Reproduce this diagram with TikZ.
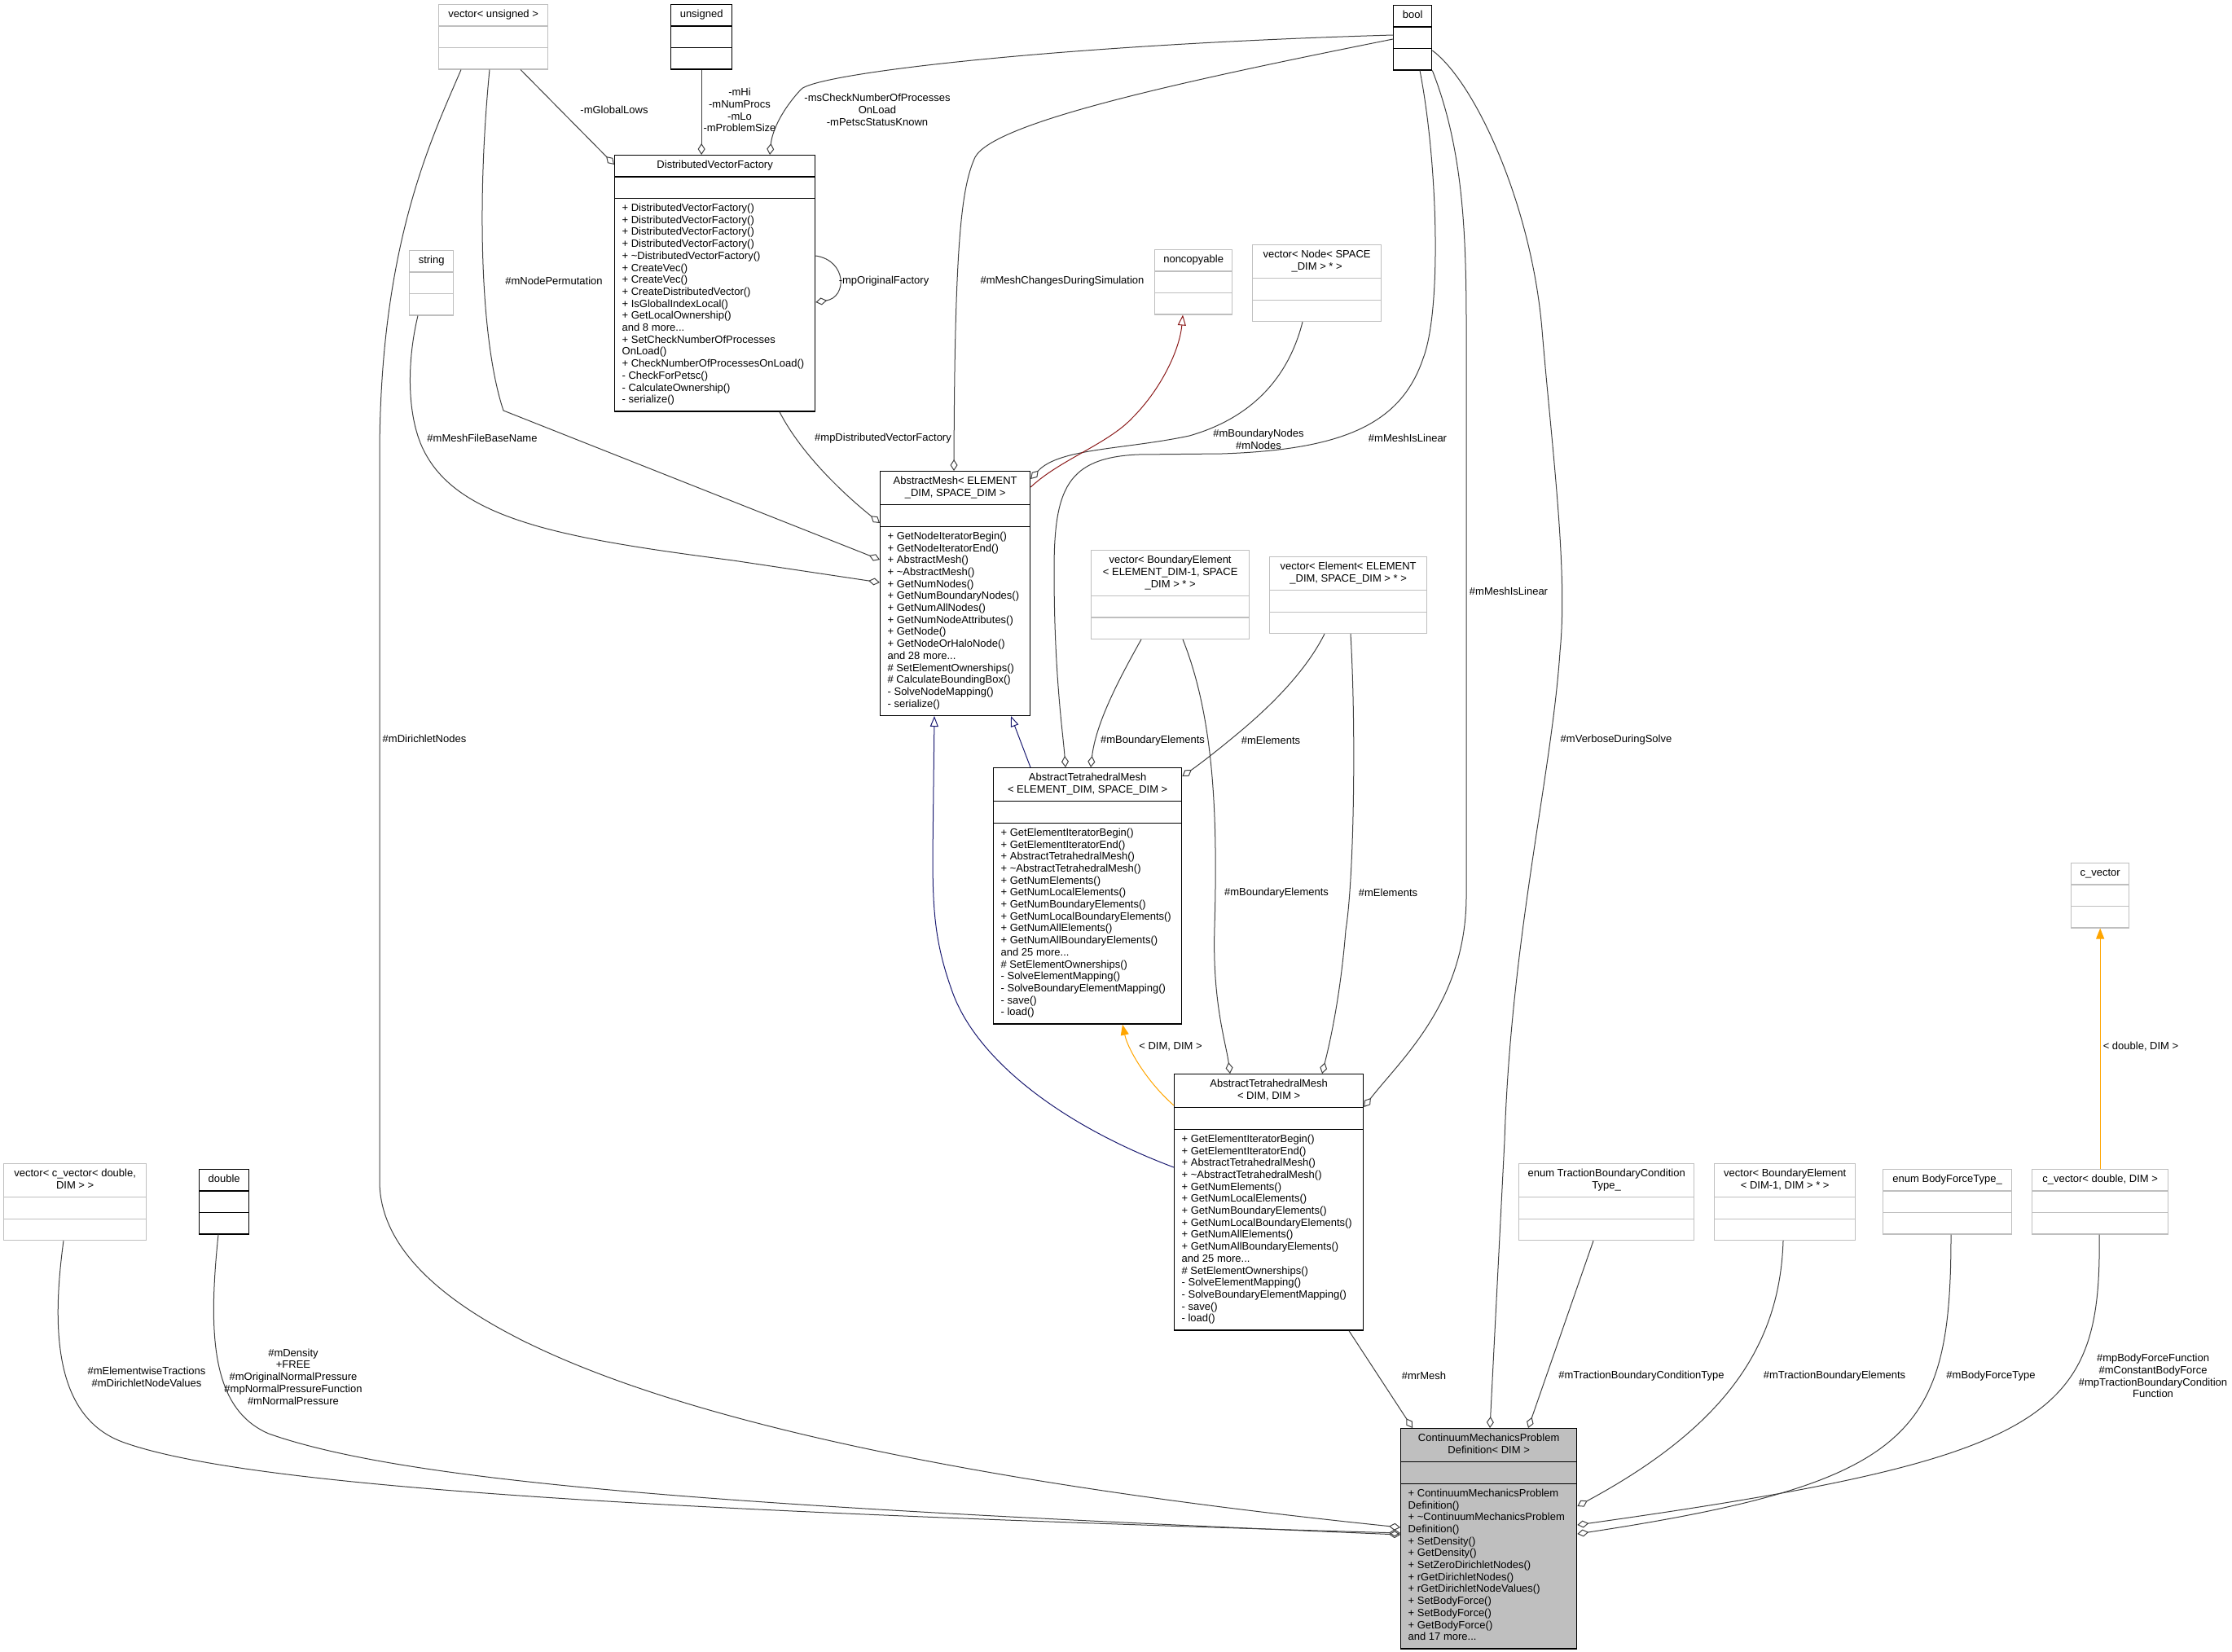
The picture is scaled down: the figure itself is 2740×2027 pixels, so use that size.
\documentclass[tikz,border=0pt]{standalone}
\usepackage{fontspec}
\setmainfont{Liberation Sans}
\usetikzlibrary{arrows.meta,calc,shapes.multipart}
\definecolor{edgegray}{HTML}{404040}
\definecolor{boxgray}{HTML}{BFBFBF}
\definecolor{inhblue}{HTML}{191970}
\definecolor{inhred}{HTML}{8B1A1A}
\definecolor{tmplorange}{HTML}{FFA500}

\begin{document}
\begin{tikzpicture}[x=1pt, y=-1pt,
        every node/.style={font=\fontsize{13}{14.7}\selectfont},
        cls/.style={
        rectangle split, rectangle split parts=3,
        inner xsep=9pt, inner ysep=5.2pt,
        anchor=north west, line width=1.3pt},
        doc/.style={cls, draw=black},
        ext/.style={cls, draw=boxgray},
        cur/.style={doc, fill=boxgray},
        lbl/.style={align=center, inner sep=0pt},
        agg/.style={draw=edgegray, line width=1pt, -{Diamond[open, length=14pt, width=9pt]}},
        inh/.style={draw=inhblue, line width=1pt, -{Triangle[open, length=13pt, width=10pt]}},
        pinh/.style={draw=inhred, line width=1pt, -{Triangle[open, length=13pt, width=10pt]}},
        tmpl/.style={draw=tmplorange, line width=1pt, -{Triangle[length=13pt, width=10pt]}},
        ]

        \useasboundingbox (0,0) rectangle (2740,2027);

        \node (vecuns) [ext] at (538,5) {\parbox[t]{116pt}{\centering\strut vector< unsigned >\strut}\nodepart{two}\strut\nodepart{three}\strut};
        \node (uns) [doc] at (823,5) {\parbox[t]{57pt}{\centering\strut unsigned\strut}\nodepart{two}\strut\nodepart{three}\strut};
        \node (boolt) [doc] at (1710,6) {\parbox[t]{29pt}{\centering\strut bool\strut}\nodepart{two}\strut\nodepart{three}\strut};
        \node (dvf) [doc] at (754,190) {\parbox[t]{228pt}{\centering\strut DistributedVectorFactory\strut}
            \nodepart{two}\strut
            \nodepart{three}\parbox[t]{228pt}{\raggedright\strut + DistributedVectorFactory()\\+ DistributedVectorFactory()\\+ DistributedVectorFactory()\\+ DistributedVectorFactory()\\+ \textasciitilde DistributedVectorFactory()\\+ CreateVec()\\+ CreateVec()\\+ CreateDistributedVector()\\+ IsGlobalIndexLocal()\\+ GetLocalOwnership()\\and 8 more...\\+ SetCheckNumberOfProcesses\\OnLoad()\\+ CheckNumberOfProcessesOnLoad()\\- CheckForPetsc()\\- CalculateOwnership()\\- serialize()\strut}};
        \node (str) [ext] at (502,307) {\parbox[t]{36pt}{\centering\strut string\strut}\nodepart{two}\strut\nodepart{three}\strut};
        \node (noncp) [ext] at (1417,306) {\parbox[t]{77pt}{\centering\strut noncopyable\strut}\nodepart{two}\strut\nodepart{three}\strut};
        \node (vecnode) [ext] at (1537,300) {\parbox[t]{140pt}{\centering\strut vector< Node< SPACE\\\_DIM > * >\strut}\nodepart{two}\strut\nodepart{three}\strut};
        \node (amesh) [doc] at (1080,578) {\parbox[t]{166pt}{\centering\strut AbstractMesh< ELEMENT\\\_DIM, SPACE\_DIM >\strut}
            \nodepart{two}\strut
            \nodepart{three}\parbox[t]{166pt}{\raggedright\strut + GetNodeIteratorBegin()\\+ GetNodeIteratorEnd()\\+ AbstractMesh()\\+ \textasciitilde AbstractMesh()\\+ GetNumNodes()\\+ GetNumBoundaryNodes()\\+ GetNumAllNodes()\\+ GetNumNodeAttributes()\\+ GetNode()\\+ GetNodeOrHaloNode()\\and 28 more...\\\# SetElementOwnerships()\\\# CalculateBoundingBox()\\- SolveNodeMapping()\\- serialize()\strut}};
        \node (vecbe) [ext] at (1339,675) {\parbox[t]{176pt}{\centering\strut vector< BoundaryElement\\< ELEMENT\_DIM-1, SPACE\\\_DIM > * >\strut}\nodepart{two}\strut\nodepart{three}\strut};
        \node (vecel) [ext] at (1558,683) {\parbox[t]{175pt}{\centering\strut vector< Element< ELEMENT\\\_DIM, SPACE\_DIM > * >\strut}\nodepart{two}\strut\nodepart{three}\strut};
        \node (atmesh) [doc] at (1219,942) {\parbox[t]{213pt}{\centering\strut AbstractTetrahedralMesh\\< ELEMENT\_DIM, SPACE\_DIM >\strut}
            \nodepart{two}\strut
            \nodepart{three}\parbox[t]{213pt}{\raggedright\strut + GetElementIteratorBegin()\\+ GetElementIteratorEnd()\\+ AbstractTetrahedralMesh()\\+ \textasciitilde AbstractTetrahedralMesh()\\+ GetNumElements()\\+ GetNumLocalElements()\\+ GetNumBoundaryElements()\\+ GetNumLocalBoundaryElements()\\+ GetNumAllElements()\\+ GetNumAllBoundaryElements()\\and 25 more...\\\# SetElementOwnerships()\\- SolveElementMapping()\\- SolveBoundaryElementMapping()\\- save()\\- load()\strut}};
        \node (atmdd) [doc] at (1441,1318) {\parbox[t]{214pt}{\centering\strut AbstractTetrahedralMesh\\< DIM, DIM >\strut}
            \nodepart{two}\strut
            \nodepart{three}\parbox[t]{214pt}{\raggedright\strut + GetElementIteratorBegin()\\+ GetElementIteratorEnd()\\+ AbstractTetrahedralMesh()\\+ \textasciitilde AbstractTetrahedralMesh()\\+ GetNumElements()\\+ GetNumLocalElements()\\+ GetNumBoundaryElements()\\+ GetNumLocalBoundaryElements()\\+ GetNumAllElements()\\+ GetNumAllBoundaryElements()\\and 25 more...\\\# SetElementOwnerships()\\- SolveElementMapping()\\- SolveBoundaryElementMapping()\\- save()\\- load()\strut}};
        \node (veccv) [ext] at (4,1428) {\parbox[t]{157pt}{\centering\strut vector< c\_vector< double,\\DIM > >\strut}\nodepart{two}\strut\nodepart{three}\strut};
        \node (dbl) [doc] at (244,1435) {\parbox[t]{43pt}{\centering\strut double\strut}\nodepart{two}\strut\nodepart{three}\strut};
        \node (etbc) [ext] at (1864,1428) {\parbox[t]{197pt}{\centering\strut enum TractionBoundaryCondition\\Type\_\strut}\nodepart{two}\strut\nodepart{three}\strut};
        \node (vecbed) [ext] at (2104,1428) {\parbox[t]{155pt}{\centering\strut vector< BoundaryElement\\< DIM-1, DIM > * >\strut}\nodepart{two}\strut\nodepart{three}\strut};
        \node (ebf) [ext] at (2311,1435) {\parbox[t]{140pt}{\centering\strut enum BodyForceType\_\strut}\nodepart{two}\strut\nodepart{three}\strut};
        \node (cvdd) [ext] at (2494,1435) {\parbox[t]{149pt}{\centering\strut c\_vector< double, DIM >\strut}\nodepart{two}\strut\nodepart{three}\strut};
        \node (cvec) [ext] at (2542,1059) {\parbox[t]{53pt}{\centering\strut c\_vector\strut}\nodepart{two}\strut\nodepart{three}\strut};
        \node (cmpd) [cur] at (1719,1753) {\parbox[t]{198pt}{\centering\strut ContinuumMechanicsProblem\\Definition< DIM >\strut}
            \nodepart{two}\strut
            \nodepart{three}\parbox[t]{198pt}{\raggedright\strut + ContinuumMechanicsProblem\\Definition()\\+ \textasciitilde ContinuumMechanicsProblem\\Definition()\\+ SetDensity()\\+ GetDensity()\\+ SetZeroDirichletNodes()\\+ rGetDirichletNodes()\\+ rGetDirichletNodeValues()\\+ SetBodyForce()\\+ SetBodyForce()\\+ GetBodyForce()\\and 17 more...\strut}};

        \draw [agg] ($(vecuns.south west)+(28,0)$) .. controls (530,170) and (466,300) .. (466,560) -- (466,1450) .. controls (466,1620) and (800,1780) .. ($(cmpd.north west)+(0,122)$);
        \draw [agg] ($(vecuns.south west)+(63,0)$) .. controls (585,250) and (590,420) .. (618,504) -- ($(amesh.north west)+(0,109)$);
        \draw [agg] ($(vecuns.south west)+(101,0)$) -- ($(dvf.north west)+(0,12)$);
        \draw [agg] (uns.south) -- (uns.south |- dvf.north);
        \draw [agg] ($(boolt.north west)+(0,37)$) .. controls (1300,55) and (1000,90) .. (983,110) .. controls (960,135) and (948,160) .. ($(dvf.north west)+(191,0)$);
        \draw [agg] ($(boolt.north west)+(0,42)$) .. controls (1450,100) and (1220,150) .. (1197,193) .. controls (1180,230) and (1172,300) .. ($(amesh.north west)+(91,0)$);
        \draw [agg] ($(boolt.south west)+(33,0)$) .. controls (1765,200) and (1770,380) .. (1747,440) .. controls (1720,520) and (1650,552) .. (1500,557) -- (1397,558) .. controls (1310,562) and (1294,600) .. (1294,700) .. controls (1294,830) and (1305,900) .. ($(atmesh.north west)+(89,0)$);
        \draw [agg] (boolt.south east) .. controls (1795,180) and (1800,280) .. (1800,400) -- (1800,1100) .. controls (1800,1230) and (1720,1300) .. ($(atmdd.north east)+(0,41)$);
        \draw [agg] ($(boolt.north east)+(0,56)$) .. controls (1810,100) and (1880,250) .. (1893,405) .. controls (1905,550) and (1925,700) .. (1915,800) .. controls (1905,950) and (1855,1150) .. (1847,1400) -- ($(cmpd.north west)+(110,0)$);
        \draw [agg] ($(dvf.north east)+(0,124)$) .. controls (1040,320) and (1040,365) .. ($(dvf.north east)+(0,181)$);
        \draw [agg] ($(dvf.south west)+(203,0)$) .. controls (985,560) and (1040,610) .. ($(amesh.north west)+(0,64)$);
        \draw [agg] ($(str.south west)+(11,0)$) .. controls (498,450) and (500,520) .. (524,560) .. controls (570,640) and (700,662) .. (900,688) -- ($(amesh.north west)+(0,137)$);
        \draw [agg] ($(vecnode.south west)+(62,0)$) .. controls (1580,470) and (1530,515) .. (1460,535) .. controls (1380,552) and (1300,550) .. ($(amesh.north east)+(0,10)$);
        \draw [agg] ($(vecbe.south west)+(62,0)$) .. controls (1370,840) and (1345,890) .. ($(atmesh.north west)+(120,0)$);
        \draw [agg] ($(vecbe.south west)+(113,0)$) .. controls (1490,880) and (1495,1000) .. (1491,1138) .. controls (1488,1230) and (1505,1280) .. ($(atmdd.north west)+(69,0)$);
        \draw [agg] ($(vecel.south west)+(68,0)$) .. controls (1600,830) and (1550,875) .. (1520,900) .. controls (1490,925) and (1470,940) .. ($(atmesh.north east)+(0,11)$);
        \draw [agg] ($(vecel.south west)+(100,0)$) .. controls (1665,900) and (1662,1080) .. (1652,1142) .. controls (1645,1230) and (1630,1290) .. ($(atmdd.north west)+(182,0)$);
        \draw [agg] ($(atmdd.south west)+(215,0)$) -- ($(cmpd.north west)+(15,0)$);
        \draw [agg] ($(etbc.south west)+(92,0)$) -- ($(cmpd.north west)+(157,0)$);
        \draw [agg] ($(vecbed.south west)+(85,0)$) .. controls (2185,1650) and (2120,1750) .. ($(cmpd.north east)+(0,96)$);
        \draw [agg] ($(ebf.south west)+(84,0)$) .. controls (2395,1760) and (2350,1820) .. ($(cmpd.north east)+(0,130)$);
        \draw [agg] ($(cvdd.south west)+(83,0)$) .. controls (2580,1740) and (2520,1790) .. ($(cmpd.north east)+(0,119)$);
        \draw [agg] ($(veccv.south west)+(74,0)$) .. controls (62,1640) and (70,1740) .. (150,1770) .. controls (300,1825) and (800,1855) .. ($(cmpd.north west)+(0,129)$);
        \draw [agg] ($(dbl.south west)+(24,0)$) .. controls (255,1640) and (260,1730) .. (330,1760) .. controls (500,1820) and (900,1850) .. ($(cmpd.north west)+(0,131)$);

        \draw [pinh] ($(amesh.north east)+(0,20)$) .. controls (1300,565) and (1360,545) .. (1390,513) .. controls (1425,478) and (1448,430) .. ($(noncp.south west)+(35,0)$);
        \draw [inh] ($(atmdd.north west)+(0,115)$) .. controls (1300,1380) and (1200,1300) .. (1170,1220) .. controls (1148,1160) and (1145,1120) .. (1145,1050) -- ($(amesh.south west)+(67,0)$);
        \draw [inh] ($(atmesh.north west)+(46,0)$) -- ($(amesh.south west)+(161,0)$);
        \draw [tmpl] ($(atmdd.north west)+(0,39)$) .. controls (1410,1330) and (1385,1290) .. ($(atmesh.south west)+(159,0)$);
        \draw [tmpl] (cvec.south |- cvdd.north) -- (cvec.south);

        \node (l-dn) [lbl] at (521,907) {\#mDirichletNodes};
        \node (l-np) [lbl] at (680,345) {\#mNodePermutation};
        \node (l-gl) [lbl] at (754,135) {-mGlobalLows};
        \node (l-hi) [lbl] at (908,135) {-mHi\\-mNumProcs\\-mLo\\-mProblemSize};
        \node (l-cn) [lbl] at (1077,135) {-msCheckNumberOfProcesses\\OnLoad\\-mPetscStatusKnown};
        \node (l-of) [lbl] at (1085,345) {-mpOriginalFactory};
        \node (l-fb) [lbl] at (592,538) {\#mMeshFileBaseName};
        \node (l-dv) [lbl] at (1084,538) {\#mpDistributedVectorFactory};
        \node (l-mc) [lbl] at (1304,345) {\#mMeshChangesDuringSimulation};
        \node (l-bn) [lbl] at (1545,539) {\#mBoundaryNodes\\\#mNodes};
        \node (l-li1) [lbl] at (1728,538) {\#mMeshIsLinear};
        \node (l-li2) [lbl] at (1852,726) {\#mMeshIsLinear};
        \node (l-vs) [lbl] at (1984,908) {\#mVerboseDuringSolve};
        \node (l-be1) [lbl] at (1415,909) {\#mBoundaryElements};
        \node (l-el1) [lbl] at (1560,909) {\#mElements};
        \node (l-be2) [lbl] at (1567,1096) {\#mBoundaryElements};
        \node (l-el2) [lbl] at (1704,1096) {\#mElements};
        \node (l-dd) [lbl] at (1437,1285) {< DIM, DIM >};
        \node (l-cd) [lbl] at (2628,1285) {< double, DIM >};
        \node (l-et) [lbl] at (180,1690) {\#mElementwiseTractions\\\#mDirichletNodeValues};
        \node (l-de) [lbl] at (360,1690) {\#mDensity\\+FREE\\\#mOriginalNormalPressure\\\#mpNormalPressureFunction\\\#mNormalPressure};
        \node (l-rm) [lbl] at (1748,1689) {\#mrMesh};
        \node (l-tc) [lbl] at (2015,1689) {\#mTractionBoundaryConditionType};
        \node (l-te) [lbl] at (2252,1689) {\#mTractionBoundaryElements};
        \node (l-bf) [lbl] at (2444,1689) {\#mBodyForceType};
        \node (l-bff) [lbl] at (2643,1689) {\#mpBodyForceFunction\\\#mConstantBodyForce\\\#mpTractionBoundaryCondition\\Function};
    \end{tikzpicture}
\end{document}
